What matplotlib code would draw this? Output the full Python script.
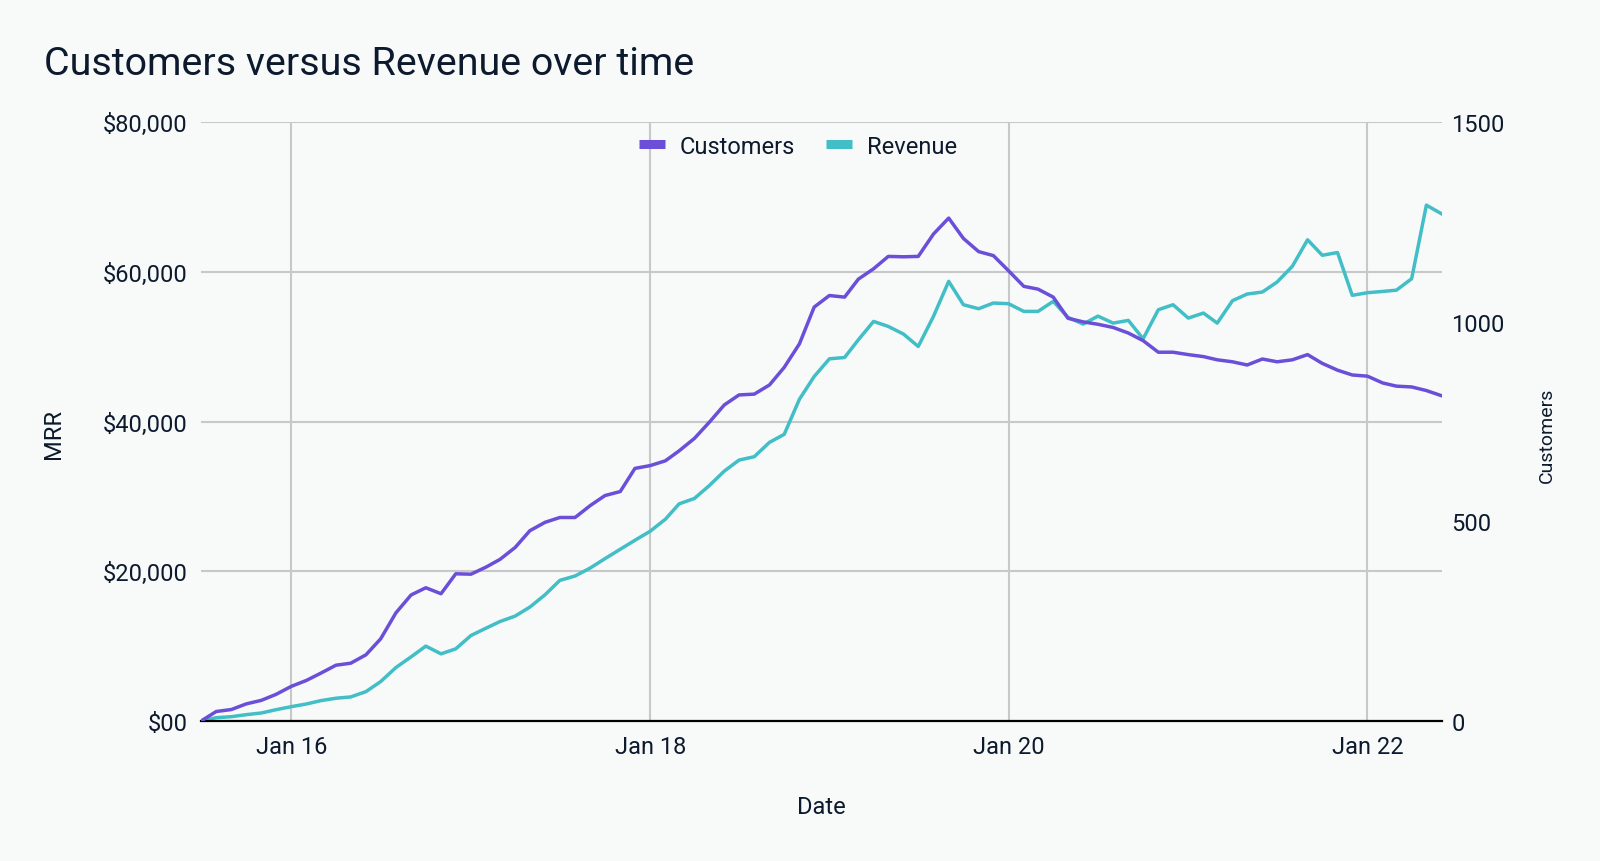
import matplotlib
matplotlib.use("Agg")
import matplotlib.pyplot as plt
import matplotlib.dates as mdates
from matplotlib.lines import Line2D
from matplotlib.ticker import FixedLocator
import pandas as pd

# ---- data ----
dates = pd.date_range("2015-07-01", periods=84, freq="MS")
customers = [0, 24, 29, 43, 52, 67, 87, 102, 120, 140,
             145, 166, 206, 271, 316, 334, 319, 369, 368, 386,
             405, 435, 477, 498, 510, 510, 540, 565, 575, 633,
             640, 652, 677, 708, 748, 792, 817, 819, 842, 886,
             945, 1037, 1066, 1062, 1107, 1133, 1164, 1163, 1164, 1220,
             1260, 1209, 1176, 1166, 1128, 1089, 1082, 1062, 1009, 1000,
             994, 986, 972, 953, 924, 924, 918, 913, 905, 900,
             892, 907, 900, 905, 918, 896, 879, 867, 864, 847,
             839, 837, 828, 815]
revenue = [0, 455, 590, 857, 1085, 1526, 1928, 2290, 2732, 3053,
           3227, 3937, 5276, 7150, 8583, 10016, 8985, 9654, 11435, 12426,
           13300, 14030, 15234, 16885, 18800, 19385, 20455, 21705, 22955, 24160,
           25365, 26970, 29025, 29740, 31437, 33400, 34870, 35320, 37240, 38310,
           43000, 46030, 48395, 48575, 50940, 53395, 52725, 51700, 50050, 54065,
           58750, 55625, 55090, 55850, 55760, 54735, 54735, 56075, 53930, 53040,
           54100, 53170, 53530, 51070, 54955, 55625, 53840, 54510, 53170, 56160,
           57055, 57320, 58660, 60760, 64300, 62230, 62600, 56880, 57230, 57400,
           57570, 59100, 68930, 67770]
mrr_ticks = [0, 20000, 40000, 60000, 80000]
mrr_tick_labels = ["$00", "$20,000", "$40,000", "$60,000", "$80,000"]
cust_ticks = [0, 500, 1000, 1500]
year_ticks = ["2016-01-01", "2018-01-01", "2020-01-01", "2022-01-01"]
series_names = ["Customers", "Revenue"]

# ---- style ----
BG = "#f8fafa"
TXT = "#0d1a2e"
PURPLE = "#6b4fd9"
TEAL = "#42bec6"
GRID = "#c8c8c8"
FS = 17
plt.rcParams["font.family"] = ["Roboto", "DejaVu Sans"]

fig = plt.figure(figsize=(16, 8.62), dpi=100, facecolor=BG)
ax = fig.add_axes([0.1256, 0.1623, 0.7754, 0.6947])
ax.set_facecolor(BG)
ax2 = ax.twinx()

ax.plot(dates, revenue, color=TEAL, lw=2.5, zorder=3)
ax2.plot(dates, customers, color=PURPLE, lw=2.5, zorder=3)

ax.set_xlim(dates[0], dates[-1])
ax.set_ylim(0, 80000)
ax2.set_ylim(0, 1500)

ax.yaxis.set_major_locator(FixedLocator(mrr_ticks))
ax.set_yticklabels(mrr_tick_labels)
ax2.yaxis.set_major_locator(FixedLocator(cust_ticks))
ax.xaxis.set_major_locator(FixedLocator(mdates.date2num(pd.to_datetime(year_ticks))))
ax.xaxis.set_major_formatter(mdates.DateFormatter("Jan %y"))

ax.grid(True, color=GRID, lw=1.5, zorder=0)
ax.set_axisbelow(True)
for a in (ax, ax2):
    for s in a.spines.values():
        s.set_visible(False)
ax.spines["bottom"].set_visible(True)
ax.spines["bottom"].set_color("#000000")
ax.spines["bottom"].set_linewidth(1.6)
ax.spines["bottom"].set_zorder(5)

ax.tick_params(axis="y", length=0, pad=9.5, labelsize=FS, labelcolor=TXT)
ax.tick_params(axis="x", length=0, pad=10, labelsize=FS, labelcolor=TXT)
ax2.tick_params(axis="y", length=0, pad=7, labelsize=FS, labelcolor=TXT)

ax.set_xlabel("Date", fontsize=FS, color=TXT, labelpad=27)
fig.text(54 / 1600, 1 - 434 / 862, "MRR", rotation=90, fontsize=FS, color=TXT,
         ha="center", va="center")
fig.text(1547 / 1600, 1 - 435 / 862, "Customers", rotation=90, fontsize=14, color=TXT,
         ha="center", va="center")

fig.text(44 / 1600, 1 - 75 / 862, "Customers versus Revenue over time",
         fontsize=28.4, color=TXT, ha="left", va="baseline")

handles = [Line2D([], [], color=PURPLE, lw=6.5, solid_capstyle="butt"),
           Line2D([], [], color=TEAL, lw=6.5, solid_capstyle="butt")]
leg = fig.legend(handles, series_names, loc="center", ncol=2, frameon=False,
                 bbox_to_anchor=(798 / 1600, 1 - 147 / 862), bbox_transform=fig.transFigure,
                 fontsize=FS, handlelength=1.1, handletextpad=0.65, columnspacing=1.3,
                 borderpad=0)
for t in leg.get_texts():
    t.set_color(TXT)

fig.savefig("out.png", dpi=100, facecolor=BG)
